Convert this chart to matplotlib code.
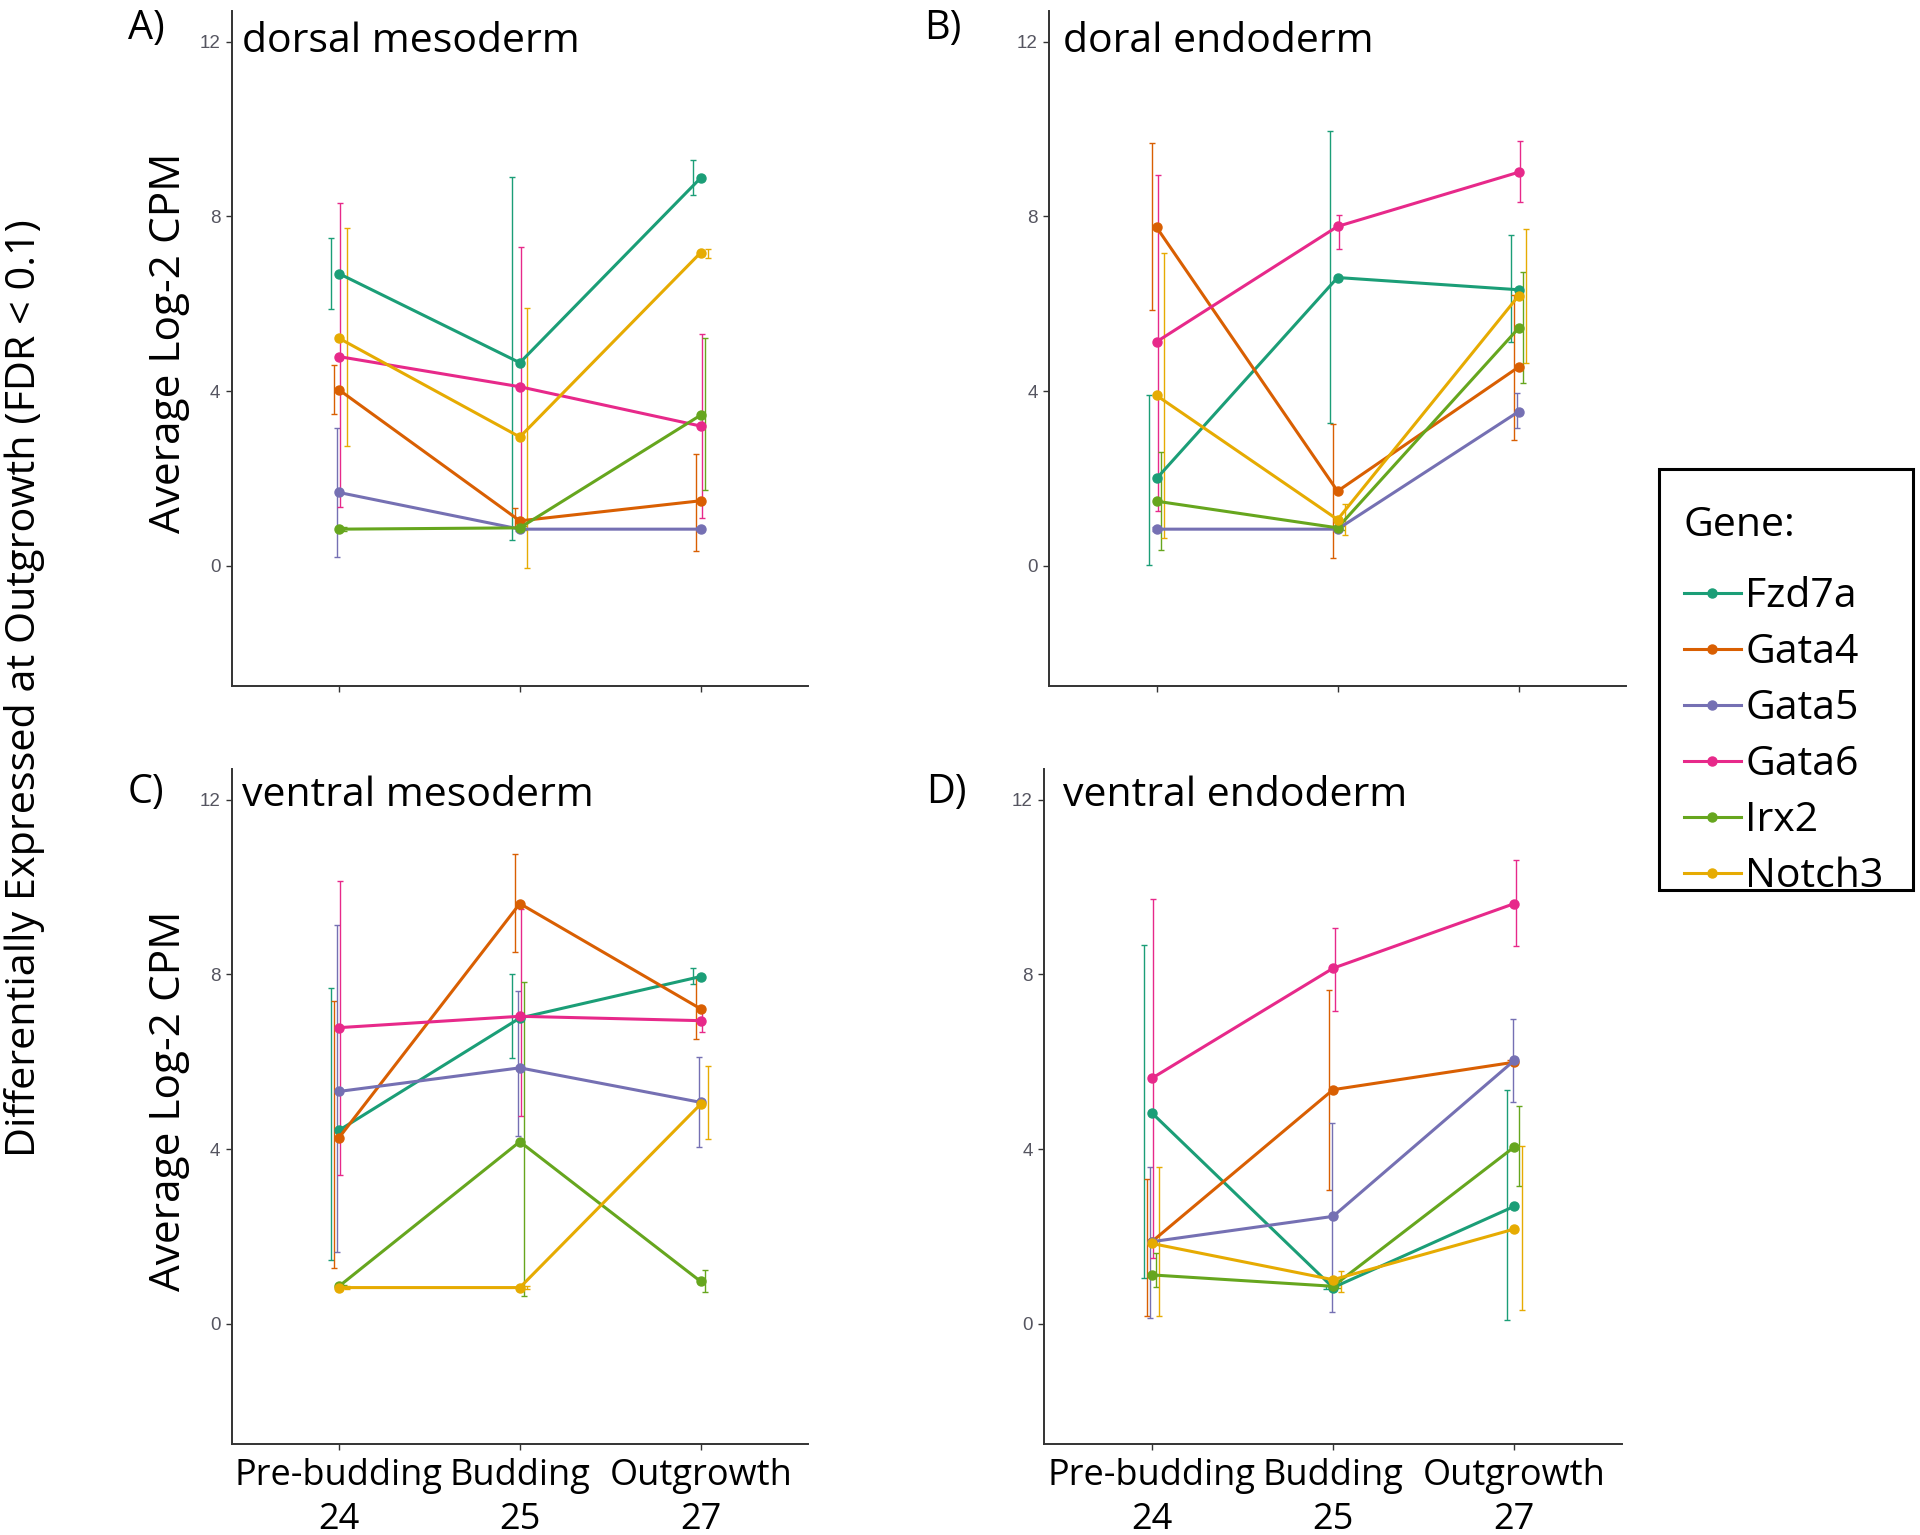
import numpy as np
import matplotlib
matplotlib.use('Agg')
import matplotlib.pyplot as plt
from matplotlib.lines import Line2D
from matplotlib.patches import Rectangle

plt.rcParams['font.family'] = ['Open Sans', 'DejaVu Sans']

stadi = ['Pre-budding\n24', 'Budding\n25', 'Outgrowth\n27']
geni = ['Fzd7a', 'Gata4', 'Gata5', 'Gata6', 'Irx2', 'Notch3']
colori = ['#1B9E77', '#D95F02', '#7570B3', '#E7298A', '#66A61E', '#E6AB02']

# A) dorsal mesoderm  (righe = geni, colonne = stadi)
dm_media = [[6.69, 4.65, 8.88], [4.03, 1.03, 1.49], [1.68, 0.84, 0.84],
            [4.79, 4.10, 3.20], [0.84, 0.87, 3.45], [5.21, 2.95, 7.17]]
dm_min = [[5.89, 0.59, 8.50], [3.47, 0.90, 0.35], [0.21, 0.80, 0.80],
          [1.34, 0.90, 1.10], [0.80, 0.82, 1.73], [2.74, -0.04, 7.05]]
dm_max = [[7.51, 8.89, 9.28], [4.60, 1.32, 2.55], [3.16, 0.88, 0.88],
          [8.30, 7.30, 5.31], [0.88, 0.92, 5.21], [7.73, 5.91, 7.25]]

# B) doral endoderm
de_media = [[2.00, 6.60, 6.32], [7.75, 1.71, 4.55], [0.84, 0.84, 3.53],
            [5.13, 7.77, 9.01], [1.48, 0.87, 5.44], [3.90, 1.06, 6.18]]
de_min = [[0.03, 3.27, 5.13], [5.86, 0.17, 2.88], [0.80, 0.80, 3.16],
          [1.26, 7.25, 8.34], [0.37, 0.82, 4.18], [0.64, 0.71, 4.64]]
de_max = [[3.92, 9.96, 7.57], [9.67, 3.24, 6.20], [0.88, 0.88, 3.96],
          [8.94, 8.02, 9.72], [2.60, 0.92, 6.73], [7.17, 1.42, 7.71]]

# C) ventral mesoderm
vm_media = [[4.43, 7.00, 7.95], [4.26, 9.62, 7.21], [5.32, 5.86, 5.07],
            [6.78, 7.04, 6.94], [0.86, 4.17, 0.97], [0.83, 0.83, 5.03]]
vm_min = [[1.46, 6.09, 7.79], [1.28, 8.52, 6.52], [1.65, 4.29, 4.05],
          [3.41, 4.75, 6.69], [0.82, 0.63, 0.72], [0.80, 0.80, 4.22]]
vm_max = [[7.69, 8.01, 8.14], [7.40, 10.75, 7.93], [9.13, 7.61, 6.11],
          [10.14, 9.50, 7.15], [0.90, 7.83, 1.24], [0.87, 0.87, 5.90]]

# D) ventral endoderm
ve_media = [[4.83, 0.83, 2.69], [1.88, 5.36, 5.99], [1.88, 2.46, 6.03],
            [5.62, 8.14, 9.62], [1.12, 0.86, 4.05], [1.84, 1.01, 2.17]]
ve_min = [[1.05, 0.79, 0.08], [0.17, 3.06, 5.95], [0.14, 0.28, 5.07],
          [1.51, 7.15, 8.64], [0.85, 0.82, 3.15], [0.17, 0.74, 0.31]]
ve_max = [[8.67, 0.87, 5.36], [3.32, 7.64, 6.03], [3.60, 4.60, 6.98],
          [9.72, 9.07, 10.61], [1.62, 0.90, 4.99], [3.60, 1.20, 4.06]]


def disegna(ax, media, vmin, vmax):
    x = np.arange(1, 4)
    for i in range(len(geni)):
        m = np.array(media[i])
        lo = np.array(vmin[i])
        hi = np.array(vmax[i])
        dx = (i - 2.5) * 0.1 / 6
        ax.errorbar(x + dx, m, yerr=[m - lo, hi - m], fmt='none',
                    ecolor=colori[i], elinewidth=1.0, capsize=2.2,
                    capthick=1.0, zorder=2)
        ax.plot(x, m, color=colori[i], lw=2.2, marker='o', ms=6.5,
                zorder=3)
    ax.set_xlim(0.406, 3.594)
    ax.set_ylim(-2.75, 12.7)
    ax.set_yticks([0, 4, 8, 12])
    ax.set_xticks([1, 2, 3])
    for s in ['top', 'right']:
        ax.spines[s].set_visible(False)
    for s in ['left', 'bottom']:
        ax.spines[s].set_linewidth(1.4)
        ax.spines[s].set_color('#333333')
    ax.tick_params(axis='y', length=4, width=1, color='#333333',
                   labelsize=13.5, labelcolor='#555560', pad=4)
    ax.tick_params(axis='x', length=4, width=1, color='#333333', pad=6)
    for t in ax.get_yticklabels():
        t.set_fontfamily('Liberation Sans')


fig = plt.figure(figsize=(19.2, 15.35), dpi=100)

axA = fig.add_axes([0.1206, 0.5531, 0.3003, 0.4397])
axB = fig.add_axes([0.5464, 0.5531, 0.3005, 0.4397])
axC = fig.add_axes([0.1206, 0.0593, 0.3003, 0.4397])
axD = fig.add_axes([0.5438, 0.0593, 0.3010, 0.4397])

disegna(axA, dm_media, dm_min, dm_max)
disegna(axB, de_media, de_min, de_max)
disegna(axC, vm_media, vm_min, vm_max)
disegna(axD, ve_media, ve_min, ve_max)

for ax in [axA, axB]:
    ax.set_xticklabels([])
for ax in [axC, axD]:
    ax.set_xticklabels(stadi, fontsize=26, linespacing=1.3)

for ax in [axA, axC]:
    ax.set_ylabel('Average Log-2 CPM', fontsize=30.5)
    ax.yaxis.set_label_coords(-0.072, 0.509)

axA.text(0.018, 0.939, 'dorsal mesoderm', transform=axA.transAxes, fontsize=29.5)
axB.text(0.024, 0.939, 'doral endoderm', transform=axB.transAxes, fontsize=29.5)
axC.text(0.018, 0.945, 'ventral mesoderm', transform=axC.transAxes, fontsize=29.5)
axD.text(0.033, 0.945, 'ventral endoderm', transform=axD.transAxes, fontsize=29.5)

fig.text(128 / 1920, 1 - 39 / 1535, 'A)', fontsize=28.5)
fig.text(924 / 1920, 1 - 39 / 1535, 'B)', fontsize=28.5)
fig.text(128 / 1920, 1 - 803 / 1535, 'C)', fontsize=28.5)
fig.text(926 / 1920, 1 - 803 / 1535, 'D)', fontsize=28.5)

fig.text(25 / 1920, 1 - 688 / 1535,
         'Differentially Expressed at Outgrowth (FDR < 0.1)',
         rotation=90, ha='center', va='center', fontsize=29.8)

# legenda senza cornice + riquadro disegnato a parte
maniglie = [Line2D([0], [0], color=c, lw=2.2, marker='o', ms=6.5) for c in colori]
leg = fig.legend(maniglie, geni, title='Gene:', loc='upper left',
                 bbox_to_anchor=(1659 / 1920, 1 - 481 / 1535),
                 bbox_transform=fig.transFigure, borderaxespad=0,
                 fontsize=29.5, title_fontsize=29.5, frameon=False,
                 handlelength=1.4, handletextpad=0.1, labelspacing=0.38,
                 borderpad=0.6)
leg._legend_box.align = 'left'
leg._legend_box.sep = 22

fig.patches.append(Rectangle((1659 / 1920, 1 - 890 / 1535), 254 / 1920, 421 / 1535,
                             transform=fig.transFigure, fill=False,
                             edgecolor='black', linewidth=2.2))

plt.savefig('out.png', dpi=100)
